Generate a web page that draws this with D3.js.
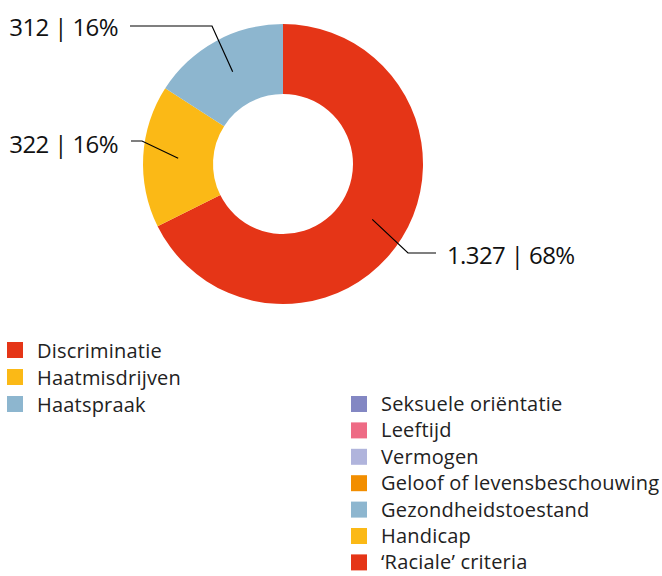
<!DOCTYPE html>
<html>
<head>
<meta charset="utf-8">
<script src="https://cdn.jsdelivr.net/npm/d3@7"></script>
<style>
  body { margin: 0; background: #fff; }
  svg { display: block; font-family: "Open Sans", sans-serif; }
</style>
</head>
<body>
<div id="chart"></div>
<script>
// donut data
var categories = ["Discriminatie", "Haatmisdrijven", "Haatspraak"];
var values = [1327, 322, 312];
var colors = ["#e53517", "#fbb916", "#8db6cf"];

// grounds legend (no values shown in this chart)
var grounds = ["Seksuele oriëntatie", "Leeftijd", "Vermogen", "Geloof of levensbeschouwing",
  "Gezondheidstoestand", "Handicap", "\u2018Raciale\u2019 criteria"];
var groundColors = ["#8387c3", "#ee6b85", "#b0b4dc", "#f28e00", "#8db6cf", "#fbb916", "#e53517"];

var svgWidth = 662;
var svgHeight = 576;
var cx = 283, cy = 164;
var outerR = 140, innerR = 70;

var svg = d3.select("#chart")
  .append("svg")
  .attr("width", svgWidth)
  .attr("height", svgHeight);

var nl = d3.formatLocale({decimal: ",", thousands: ".", grouping: [3], currency: ["€", ""]});
var fmt = nl.format(",d");
var total = d3.sum(values);

var pie = d3.pie().sort(null).value(d => d);
var arcs = pie(values);

var arc = d3.arc().innerRadius(innerR).outerRadius(outerR);
var midArc = d3.arc().innerRadius(105).outerRadius(105);

var g = svg.append("g")
  .attr("transform", `translate(${cx}, ${cy})`);

g.selectAll("path")
  .data(arcs)
  .enter()
  .append("path")
  .attr("fill", (d, i) => colors[i])
  .attr("d", arc);

// label layout: elbow point, line end, text anchor (relative to centre)
var labelLayout = [
  {elbow: [125, 89], end: [153, 89], tx: 164, ty: 100, anchor: "start"},
  {elbow: [-141, -23], end: [-152, -23], tx: -165, ty: -11, anchor: "end"},
  {elbow: [-71, -138], end: [-153, -138], tx: -165, ty: -128, anchor: "end"}
];

arcs.forEach(function(d, i) {
  var c = midArc.centroid(d);
  var L = labelLayout[i];
  g.append("polyline")
    .attr("points", [c, L.elbow, L.end].map(p => p.join(",")).join(" "))
    .attr("fill", "none")
    .attr("stroke", "#000")
    .attr("stroke-width", 1.2);
  g.append("text")
    .attr("x", L.tx)
    .attr("y", L.ty)
    .attr("text-anchor", L.anchor)
    .attr("fill", "#111")
    .style("font-size", "24px")
    .style("letter-spacing", "-0.6px")
    .text(fmt(d.value) + " | " + Math.round(d.value / total * 100) + "%");
});

// legend 1
var leg1 = svg.append("g").attr("transform", "translate(7, 350)");
var rows1 = leg1.selectAll("g")
  .data(categories)
  .enter()
  .append("g")
  .attr("transform", (d, i) => `translate(0, ${i * 27})`);
rows1.append("rect")
  .attr("x", 0).attr("y", -8)
  .attr("width", 16).attr("height", 16)
  .attr("fill", (d, i) => colors[i]);
rows1.append("text")
  .attr("x", 30).attr("y", 8)
  .attr("fill", "#222")
  .style("font-size", "20px")
  .style("letter-spacing", "0.2px")
  .text(d => d);

// legend 2
var leg2 = svg.append("g").attr("transform", "translate(351, 404)");
var rows2 = leg2.selectAll("g")
  .data(grounds)
  .enter()
  .append("g")
  .attr("transform", (d, i) => `translate(0, ${i * 26.4})`);
rows2.append("rect")
  .attr("x", 0).attr("y", -8)
  .attr("width", 16).attr("height", 16)
  .attr("fill", (d, i) => groundColors[i]);
rows2.append("text")
  .attr("x", 30).attr("y", 7)
  .attr("fill", "#222")
  .style("font-size", "20px")
  .style("letter-spacing", "0.2px")
  .text(d => d);
</script>
</body>
</html>
